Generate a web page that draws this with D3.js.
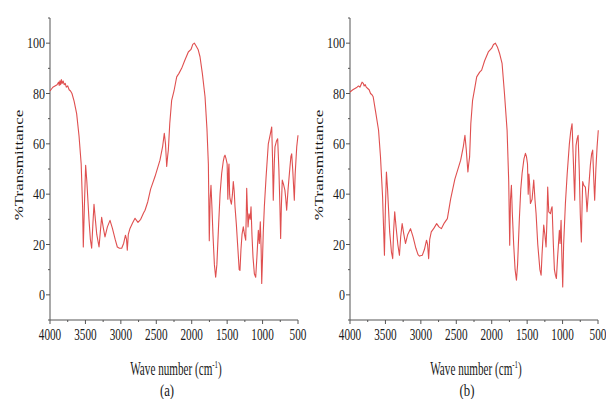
<!DOCTYPE html>
<html><head><meta charset="utf-8">
<script src="https://cdn.jsdelivr.net/npm/d3@7"></script>
<style>body{margin:0;background:#fff}svg{display:block}</style>
</head><body>
<svg id="c" width="606" height="399"></svg>
<script>
const waveA=[4000,3960,3930,3900,3880,3870,3860,3850,3840,3830,3815,3800,3785,3770,3750,3730,3710,3690,3660,3624,3590,3560,3540,3530,3515,3497,3480,3450,3430,3412,3395,3379,3360,3340,3308,3290,3271,3250,3224,3190,3153,3120,3080,3050,3020,2988,2960,2935,2920,2909,2895,2871,2835,2800,2758,2720,2680,2659,2620,2580,2518,2448,2410,2387,2370,2353,2340,2330,2310,2283,2250,2212,2180,2142,2100,2048,2010,1985,1963,1940,1910,1883,1850,1812,1785,1765,1752,1740,1728,1715,1700,1680,1662,1645,1620,1600,1577,1555,1540,1530,1515,1500,1490,1480,1474,1465,1460,1440,1425,1413,1400,1389,1370,1350,1330,1319,1305,1290,1272,1255,1238,1230,1224,1215,1205,1191,1175,1163,1150,1135,1116,1097,1080,1060,1046,1032,1020,1012,1000,990,975,950,919,890,871,860,849,835,825,805,787,770,755,745,735,722,705,685,672,660,640,613,600,589,575,560,552,540,518,500];
const transA=[81,82.5,83,83.5,84.5,83.2,85,83.5,85.5,84,85,83.5,84,82.5,83,81.5,81,80,77,72,63,52,35,19,35,51.5,45,30,22,18.5,28,36,30,24,19,25,30.8,27,23,27,29.6,26.5,22,19,18.5,18.5,20.5,23.7,22,17.7,24,26.4,28.5,30.4,28.8,30,32.5,33.6,37,42,47,53.5,59,64.2,60,51,55,57.5,68,77.3,81,86.6,88,90,93,96.5,97.5,99.5,100,99,97.5,94.6,88,78.7,66,52,21.5,38,43.5,35,24,12,7,12,28,40,48.3,53,55,55.5,54,52,38,50,52,40,38.3,36,40,45,41,35,28,19,10,9.7,18,24,27,24,21.7,32,42.3,35,27,32.2,30,35,24,15,8.4,7,15,25.6,20.4,29,18,4.5,15,25,35,47,60,64,66.7,55,37.6,52,58.8,61,62,50,35,22.4,35,45.6,44,41.6,38,33.6,42,51,55,56,50,42,37.6,48,58.8,63.4];
const waveB=[4000,3960,3930,3900,3880,3860,3845,3830,3812,3800,3785,3770,3750,3730,3710,3690,3673,3640,3597,3570,3540,3514,3500,3486,3470,3440,3415,3397,3385,3369,3350,3325,3302,3285,3264,3240,3217,3185,3146,3110,3070,3040,3019,2980,2950,2920,2905,2890,2875,2853,2815,2777,2745,2711,2670,2626,2580,2520,2438,2400,2378,2360,2336,2325,2312,2295,2270,2240,2212,2170,2142,2100,2048,2000,1975,1948,1920,1890,1854,1820,1783,1760,1746,1735,1722,1710,1690,1670,1651,1635,1610,1590,1571,1545,1524,1510,1495,1485,1475,1465,1454,1430,1407,1390,1374,1350,1320,1303,1290,1266,1250,1233,1220,1210,1195,1171,1160,1148,1130,1115,1101,1087,1070,1045,1035,1021,1010,998,985,960,935,904,885,866,850,829,818,810,795,781,765,750,735,725,716,700,678,665,655,630,608,590,575,560,547,530,513,496];
const transB=[80.6,81.5,82,82.5,83,82.5,83.5,84.5,84,83,83.5,82.5,82,81.5,80,79.5,78.7,73,65.4,55,38.9,15.7,35,48.8,42,25,17,14.4,25,33,27,20,15.7,23,28.3,24,20.4,24,26.3,23,18.5,16,15.4,15.7,18,21.7,20,14.4,22,25,26.5,28.3,27,26.3,28.5,30.3,38,46,53.5,59,63.4,58,48.8,52,54.8,68,77.3,82,86.6,88.5,89.3,93,96.5,98,99.5,100,98.5,96,92,80,65.4,45,19.7,38,43.5,33,20,10,5.8,12,30,42,48.3,54,56.2,55,52,40,48,44,36.3,38,45.6,38,32.3,20,10,7.8,16,27.7,24,19,30,42.8,33,32.3,34,35,20,10,7.8,6.5,15,25.6,20.4,29.6,15,3.1,20,36.3,48,60,65,68,55,37.6,52,59.4,62,63.4,50,32,21,35,45,43.5,42.8,38,33,43,51.5,56,57.5,46,37.6,50,58.8,65.4];
const xTicks=[4000,3500,3000,2500,2000,1500,1000,500];
const yTicks=[0,20,40,60,80,100];
const panelLabels=["(a)","(b)"];

const svg=d3.select("#c");
const serif="'Liberation Serif','Times New Roman',serif";
const axisCol="#555";
const lineCol="#dc3c3c";
const panels=[{x0:50,w:248,wave:waveA,trans:transA,lab:panelLabels[0]},{x0:350,w:248,wave:waveB,trans:transB,lab:panelLabels[1]}];
const plotTop=18,plotBottom=320;
panels.forEach(p=>{
  const x=d3.scaleLinear().domain([4000,500]).range([p.x0,p.x0+p.w]);
  const y=d3.scaleLinear().domain([-10,110]).range([plotBottom,plotTop]);
  const g=svg.append("g");
  g.append("line").attr("x1",p.x0).attr("x2",p.x0).attr("y1",plotTop).attr("y2",plotBottom).attr("stroke",axisCol).attr("stroke-width",1);
  g.append("line").attr("x1",p.x0).attr("x2",p.x0+p.w).attr("y1",plotBottom).attr("y2",plotBottom).attr("stroke",axisCol).attr("stroke-width",1);
  d3.range(-10,111,10).forEach(v=>{
    const major=v%20===0;
    g.append("line").attr("x1",p.x0).attr("x2",p.x0-(major?4:2)).attr("y1",y(v)).attr("y2",y(v)).attr("stroke",axisCol);
  });
  yTicks.forEach(v=>{
    g.append("text").attr("transform",`translate(${p.x0-5},${y(v)+5}) scale(0.8,1)`)
      .attr("text-anchor","end").attr("font-family",serif).attr("font-size",15).attr("fill","#1a1a1a").text(v);
  });
  d3.range(4000,499,-250).forEach(v=>{
    const major=v%500===0;
    g.append("line").attr("x1",x(v)).attr("x2",x(v)).attr("y1",plotBottom).attr("y2",plotBottom+(major?4:2)).attr("stroke",axisCol);
  });
  xTicks.forEach(v=>{
    g.append("text").attr("transform",`translate(${x(v)},${plotBottom+20}) scale(0.66,1)`)
      .attr("text-anchor","middle").attr("font-family",serif).attr("font-size",17).attr("fill","#1a1a1a").text(v);
  });
  const t=g.append("text").attr("transform",`translate(${p.x0+p.w/2+2},${375}) scale(0.62,1)`)
    .attr("text-anchor","middle").attr("font-family",serif).attr("font-size",18).attr("fill","#1a1a1a");
  t.append("tspan").text("Wave number (cm");
  t.append("tspan").attr("font-size",11).attr("dy",-7).text("-1");
  t.append("tspan").attr("dy",7).text(")");
  g.append("text").attr("transform",`translate(${p.x0+p.w/2-7},${396}) scale(0.8,1)`)
    .attr("text-anchor","middle").attr("font-family",serif).attr("font-size",16).attr("fill","#1a1a1a").text(p.lab);
  g.append("text").attr("transform",`translate(${p.x0-27},${165}) rotate(-90) scale(1,0.72)`)
    .attr("text-anchor","middle").attr("font-family",serif).attr("font-size",17).attr("fill","#1a1a1a").text("%Transmittance");
  const data=p.wave.map((w,i)=>[w,p.trans[i]]);
  g.append("path").datum(data).attr("d",d3.line().x(d=>x(d[0])).y(d=>y(d[1])))
    .attr("fill","none").attr("stroke",lineCol).attr("stroke-width",1.1).attr("stroke-opacity",0.9).attr("stroke-linejoin","round");
});
</script>
</body></html>
